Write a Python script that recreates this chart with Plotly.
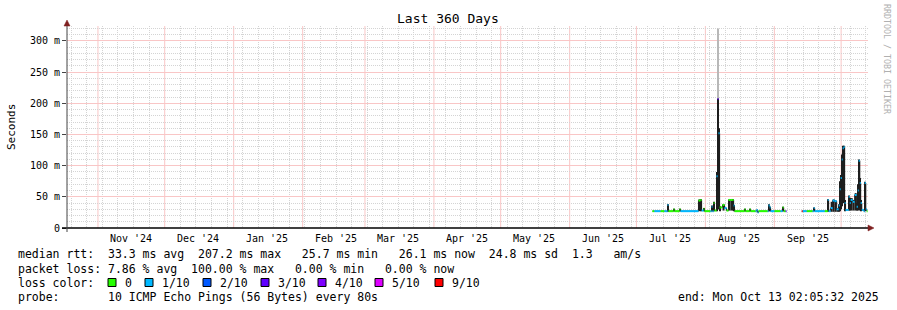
import plotly.graph_objects as go
import pandas as pd

# ---------------- data ----------------
end_time = pd.Timestamp("2025-10-13 02:05:32")
start_time = end_time - pd.Timedelta(days=360)
series_origin = pd.Timestamp("2025-07-01 00:00:00")

# sample times (days after 2025-07-01)
day_offset = [7.2, 8.1, 10.8, 12.6, 13.5, 14.0, 14.4, 16.7, 17.1, 19.4, 19.8, 27.9, 28.8, 29.3, 30.2,
              30.6, 33.3, 33.8, 34.2, 34.7, 35.1, 36.0, 36.5, 36.9, 37.4, 37.8, 38.7, 39.6, 40.5, 41.4,
              42.3, 43.2, 43.7, 44.1, 48.6, 49.0, 50.9, 51.3, 53.6, 54.0, 54.5, 54.9, 59.0, 59.4, 59.9,
              60.3, 62.0, 64.8, 65.7, 66.2, 67.1, 67.5,
              74.3, 74.7, 76.5, 79.2, 79.7, 80.1, 84.6, 86.0, 86.4, 87.3, 88.2, 89.1, 90.0, 90.9,
              91.4, 91.8, 92.3, 92.7, 93.2, 93.6, 94.0, 95.0, 95.4, 95.9, 96.3, 97.2, 98.1, 99.0,
              99.5, 99.9, 100.4, 100.8, 101.3, 102.2, 102.6, 103.1, 103.5, 103.9]

# median rtt in ms (None = no data)
median_ms = [27, 27, 27, 27, 27, 37, 27, 30, 27, 30, 27, 44, 45, 28, 31,
             27, 27, 34, 27, 40, 28, 83, 207, 152, 33, 33, 37, 32, 28, 45,
             45, 45, 36, 27, 30, 27, 30, 27, 27, 29, 25, 27, 27, 36, 33,
             27, 27, 27, 33, 27, 27, None,
             27, 27, 27, 27, 32, 27, 27, 45, 27, 32, 44, 43, 30, 36,
             62, 80, 110, 128, 130, 40, 29, 29, 50, 40, 45, 42, 53, 34,
             60, 108, 72, 40, 29, 27, 72, 30, 27, None]

# packet loss (pings lost out of 10)
loss_tenths = [0, 1, 0, 1, 1, 1, 0, 0, 0, 0, 1, 0, 0, 1, 0,
               0, 1, 1, 1, 0, 0, 1, 3, 1, 0, 0, 0, 1, 0, 0,
               0, 0, 1, 0, 0, 0, 0, 0, 1, 1, 1, 0, 1, 1, 1,
               1, 0, 1, 0, 0, 3, 0,
               9, 1, 0, 1, 1, 1, 0, 1, 1, 1, 1, 1, 1, 1,
               1, 1, 1, 1, 1, 1, 1, 1, 1, 1, 1, 1, 1, 1,
               1, 1, 1, 1, 1, 1, 1, 1, 0, 0]

# smoke (spread of the pings) in ms
smoke_lo_ms = [None, None, None, None, None, 26, None, 27, None, 27, None, 27, 27, None, 27,
               None, None, 27, None, 27, None, 27, 30, 30, 27, None, 28, None, None, 28,
               28, 28, 27, None, 27, None, 27, None, None, None, None, None, None, 27, 27,
               None, None, None, 27, None, None, None,
               None, None, None, None, 27, None, None, 26, None, 26, 26, 26, 26, 26,
               27, 30, 35, 40, 40, 27, None, None, 28, 28, 28, 28, 28, 28,
               28, 30, 28, 27, None, None, 27, None, None, None]
smoke_hi_ms = [None, None, None, None, None, 38, None, 31, None, 31, None, 46, 46, None, 32,
               None, None, 36, None, 42, None, 90, 207, 160, 35, None, 38, None, None, 46,
               46, 46, 37, None, 31, None, 31, None, None, None, None, None, None, 38, 34,
               None, None, None, 34, None, None, None,
               None, None, None, None, 33, None, None, 46, None, 42, 46, 44, 32, 38,
               75, 85, 118, 132, 132, 45, None, None, 52, 48, 48, 45, 56, 40,
               70, 110, 80, 45, None, None, 74, None, None, None]

# light outer smoke of the largest spike
peak_day = [36.6]
peak_lo_ms = [207]
peak_hi_ms = [320]

month_starts = pd.date_range("2024-11-01", "2025-10-01", freq="MS")
month_labels = ["Nov '24", "Dec '24", "Jan '25", "Feb '25", "Mar '25", "Apr '25",
                "May '25", "Jun '25", "Jul '25", "Aug '25", "Sep '25"]
week_lines = [d for d in pd.date_range("2024-10-20", "2025-10-12", freq="7D") if d.day != 1]

y_tick_vals = [0, 0.05, 0.10, 0.15, 0.20, 0.25, 0.30]
y_tick_text = ["0", "50 m", "100 m", "150 m", "200 m", "250 m", "300 m"]
y_minor_vals = [k / 100 for k in range(1, 33) if k % 5 != 0]

loss_colors = {0: "#26ff00", 1: "#00b8ff", 2: "#0059ff", 3: "#5e00ff",
               4: "#7e00ff", 5: "#dd00ff", 9: "#ff0000"}
legend_labels = ["0", "1/10", "2/10", "3/10", "4/10", "5/10", "9/10"]
legend_keys = [0, 1, 2, 3, 4, 5, 9]

# ---------------- layout geometry (pixels) ----------------
W, H = 897, 310
L, R, T, B = 67, 868, 26, 228
PW, PH = R - L, B - T
FONT = "DejaVu Sans Mono"
MAJOR_GRID = "#f9c6c6"
MINOR_GRID = "#d4d4d4"


def px(x):
    return (x - L) / PW


def py(y):
    return (B - y) / PH


times = [series_origin + pd.Timedelta(days=d) for d in day_offset]
n = len(times)

fig = go.Figure()

# smoke bars
sx, sb, sy, sw = [], [], [], []
for i in range(n - 1):
    if smoke_hi_ms[i] is None:
        continue
    sx.append(times[i])
    sb.append(smoke_lo_ms[i] / 1000)
    sy.append((smoke_hi_ms[i] - smoke_lo_ms[i]) / 1000)
    sw.append((times[i + 1] - times[i]).total_seconds() * 1000)
fig.add_trace(go.Bar(x=sx, y=sy, base=sb, width=sw, offset=0,
                     marker=dict(color="#1e1e1e", line=dict(width=0)),
                     hoverinfo="skip", showlegend=False))

pt = [series_origin + pd.Timedelta(days=d) for d in peak_day]
fig.add_trace(go.Bar(x=pt, y=[(h - l) / 1000 for h, l in zip(peak_hi_ms, peak_lo_ms)],
                     base=[l / 1000 for l in peak_lo_ms],
                     width=[0.45 * 86400000], offset=0,
                     marker=dict(color="#b8b8b8", line=dict(width=0)),
                     hoverinfo="skip", showlegend=False))

# dark step line (vertical transitions)
fig.add_trace(go.Scatter(x=times, y=[None if v is None else v / 1000 for v in median_ms],
                         mode="lines", line=dict(color="#1e1e1e", width=1, shape="hv"),
                         connectgaps=False, hoverinfo="skip", showlegend=False))

# median coloured by loss
for key, col in loss_colors.items():
    xs, ys = [], []
    for i in range(n - 1):
        if median_ms[i] is None or loss_tenths[i] != key:
            continue
        xs += [times[i], times[i + 1], None]
        ys += [median_ms[i] / 1000, median_ms[i] / 1000, None]
    if xs:
        fig.add_trace(go.Scatter(x=xs, y=ys, mode="lines",
                                 line=dict(color=col, width=2),
                                 hoverinfo="skip", showlegend=False))

annotations = []


def ann(text, x, y, size=11.5, xanchor="left", color="#000", angle=0):
    annotations.append(dict(text=text.replace(" ", "\u00a0"), x=px(x), y=py(y),
                            xref="paper", yref="paper", showarrow=False,
                            xanchor=xanchor, yanchor="middle", textangle=angle,
                            font=dict(family=FONT, size=size, color=color)))


ann("Last 360 Days", 448, 19, size=13, xanchor="center")
ann("Seconds", 11, 127, size=11, xanchor="center", angle=-90)
ann("RRDTOOL / TOBI OETIKER", 887, 59, size=8.3, xanchor="center", color="#b0b0b0", angle=90)

# month labels at mid month
for ms, lab in zip(month_starts[:-1], month_labels):
    annotations.append(dict(text=lab.replace(" ", "\u00a0"), x=ms + pd.Timedelta(days=15),
                            xref="x", y=py(238), yref="paper", showarrow=False,
                            xanchor="center", yanchor="middle",
                            font=dict(family=FONT, size=10, color="#000")))

ann("median rtt:  33.3 ms avg  207.2 ms max   25.7 ms min   26.1 ms now  24.8 ms sd  1.3   am/s", 16, 254.5)
ann("packet loss: 7.86 % avg  100.00 % max   0.00 % min   0.00 % now", 16, 268.5)
ann("loss color:", 16, 282.5)
ann("probe:       10 ICMP Echo Pings (56 Bytes) every 80s", 16, 296.5)
ann("end: Mon Oct 13 02:05:32 2025", 881, 296.5, xanchor="right")

shapes = []
label_x = [123, 160, 218, 276, 333, 390, 450]
for lx, lab, key in zip(label_x, legend_labels, legend_keys):
    ann(lab, lx, 282.5)
    shapes.append(dict(type="rect", xref="paper", yref="paper",
                       x0=px(lx - 15), x1=px(lx - 7), y0=py(286.5), y1=py(278.5),
                       fillcolor=loss_colors[key], line=dict(color="#000", width=1)))

# month start grid lines (light red)
for ms in month_starts:
    shapes.append(dict(type="line", xref="x", yref="paper", x0=ms, x1=ms, y0=0, y1=1,
                       layer="between",
                       line=dict(color=MAJOR_GRID, width=1)))

# axes lines and arrows
shapes.append(dict(type="line", xref="paper", yref="paper", x0=px(62), x1=px(868),
                   y0=0, y1=0, line=dict(color="#000", width=1.5)))
shapes.append(dict(type="line", xref="paper", yref="paper", x0=0, x1=0,
                   y0=py(232), y1=py(24), line=dict(color="#444", width=1)))
shapes.append(dict(type="path", xref="paper", yref="paper",
                   path=f"M {px(868)} {py(225)} L {px(874)} {py(228)} L {px(868)} {py(231)} Z",
                   fillcolor="#7f2020", line=dict(color="#7f2020", width=0.5)))
shapes.append(dict(type="path", xref="paper", yref="paper",
                   path=f"M {px(64)} {py(26)} L {px(67)} {py(20)} L {px(70)} {py(26)} Z",
                   fillcolor="#7f2020", line=dict(color="#7f2020", width=0.5)))

fig.update_layout(
    width=W, height=H,
    margin=dict(l=L, r=W - R, t=T, b=H - B, pad=0),
    paper_bgcolor="white", plot_bgcolor="white",
    barmode="overlay", showlegend=False,
    annotations=annotations, shapes=shapes,
    xaxis=dict(type="date", range=[start_time, end_time],
               tickmode="array", tickvals=list(month_starts),
               showgrid=False,
               showticklabels=False, ticks="", zeroline=False, showline=False,
               minor=dict(tickmode="array", tickvals=week_lines, showgrid=True,
                          gridcolor=MINOR_GRID, griddash="1px,1px",
                          gridwidth=1, ticks="")),
    yaxis=dict(range=[0, 0.324], tickmode="array", tickvals=y_tick_vals, ticktext=y_tick_text,
               showgrid=True, gridcolor=MAJOR_GRID, griddash="solid",
               gridwidth=1, zeroline=False, showline=False, ticks="outside", ticklen=4,
               tickcolor="#444", tickfont=dict(family=FONT, size=10, color="#000"),
               minor=dict(tickmode="array", tickvals=y_minor_vals, showgrid=True,
                          gridcolor=MINOR_GRID, griddash="1px,1px",
                          gridwidth=1, ticks="")),
)

fig.write_html("out.html")
